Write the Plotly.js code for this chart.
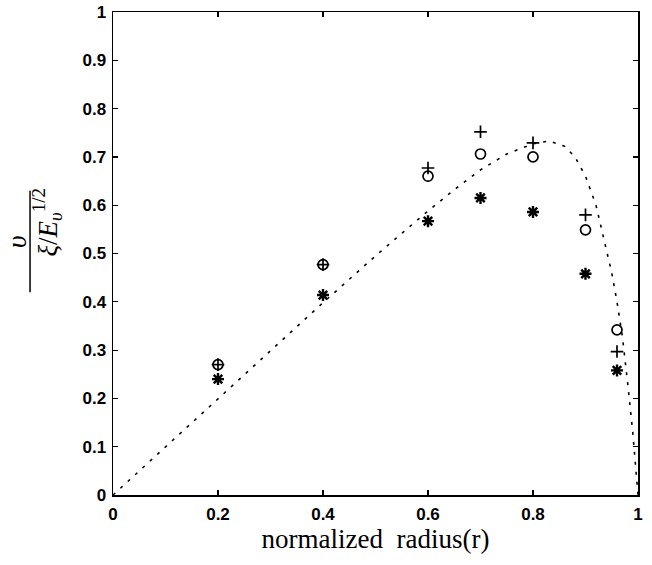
<!DOCTYPE html>
<html>
<head>
<meta charset="utf-8">
<script src="https://cdn.plot.ly/plotly-3.0.1.min.js"></script>
<style>html,body{margin:0;padding:0;background:#fff;}#chart{width:652px;height:565px;}</style>
</head>
<body>
<div id="chart"></div>
<script>
// Measured points (normalized radius r)
var radius = [0.2, 0.4, 0.6, 0.7, 0.8, 0.9, 0.96];
var circleValues = [0.270, 0.477, 0.660, 0.706, 0.700, 0.549, 0.342];
var plusValues   = [0.270, 0.477, 0.677, 0.752, 0.729, 0.580, 0.297];
var starValues   = [0.240, 0.414, 0.567, 0.615, 0.586, 0.458, 0.258];

// Dotted model curve
var curveR = [0, 0.1, 0.2, 0.3, 0.4, 0.5, 0.6, 0.65, 0.7, 0.75, 0.8, 0.83, 0.86, 0.88, 0.9, 0.92, 0.94, 0.95, 0.96, 0.97, 0.98, 0.99, 1.0];
var curveV = [0, 0.1, 0.2, 0.3, 0.398, 0.495, 0.588, 0.632, 0.673, 0.706, 0.727, 0.733, 0.722, 0.700, 0.660, 0.600, 0.510, 0.460, 0.400, 0.330, 0.235, 0.130, 0.0];

var xTickVals = [0, 0.2, 0.4, 0.6, 0.8, 1];
var xTickText = ["0", "0.2", "0.4", "0.6", "0.8", "1"];
var yTickVals = [0, 0.1, 0.2, 0.3, 0.4, 0.5, 0.6, 0.7, 0.8, 0.9, 1];
var yTickText = ["0", "0.1", "0.2", "0.3", "0.4", "0.5", "0.6", "0.7", "0.8", "0.9", "1"];

var xTitle = "normalized  radius(r)";
var yNumerator = "<i>υ</i>";
var yDenominator = "<i>ξ</i>/<i>E</i><sub><i>υ</i></sub><sup>1/2</sup>";

var traces = [
  {x: curveR, y: curveV, mode: 'lines', type: 'scatter',
   line: {color: '#000', width: 1.6, dash: '3px,7px'}, hoverinfo: 'skip'},
  {x: radius, y: circleValues, mode: 'markers', type: 'scatter',
   marker: {symbol: 'circle-open', size: 10, color: '#000', line: {width: 1.7, color: '#000'}}},
  {x: radius, y: plusValues, mode: 'markers', type: 'scatter',
   marker: {symbol: 'cross-thin-open', size: 9, color: '#000', line: {width: 1.7, color: '#000'}}},
  {x: radius, y: starValues, mode: 'markers', type: 'scatter',
   marker: {symbol: 'asterisk-open', size: 10, color: '#000', line: {width: 2.4, color: '#000'}}}
];

var axisCommon = {
  showgrid: false, zeroline: false, showline: true, mirror: 'ticks',
  linecolor: '#000', linewidth: 1.5, ticks: 'inside', ticklen: 5,
  tickwidth: 1.2, tickcolor: '#000',
  tickfont: {family: 'Liberation Sans, Arial, sans-serif', size: 17, color: '#000', weight: 'bold'}
};

var layout = {
  width: 652, height: 565,
  margin: {l: 113, r: 14, t: 12, b: 70},
  paper_bgcolor: '#fff', plot_bgcolor: '#fff',
  showlegend: false,
  xaxis: Object.assign({}, axisCommon, {
    range: [0, 1], tickmode: 'array', tickvals: xTickVals, ticktext: xTickText,
    ticklabelstandoff: 3,
    title: {text: xTitle, font: {family: 'Liberation Serif, Times New Roman, serif', size: 27, color: '#000'}, standoff: 4}
  }),
  yaxis: Object.assign({}, axisCommon, {
    range: [0, 1], tickmode: 'array', tickvals: yTickVals, ticktext: yTickText,
    ticklabelstandoff: 2
  }),
  annotations: [
    {xref: 'paper', yref: 'paper', x: -0.183, y: 0.525, text: yNumerator, showarrow: false,
     textangle: -90, xanchor: 'center', yanchor: 'middle',
     font: {family: 'Liberation Serif, Times New Roman, serif', size: 28, color: '#000'}},
    {xref: 'paper', yref: 'paper', x: -0.125, y: 0.565, text: yDenominator, showarrow: false,
     textangle: -90, xanchor: 'center', yanchor: 'middle',
     font: {family: 'Liberation Serif, Times New Roman, serif', size: 27, color: '#000'}}
  ],
  shapes: [
    {type: 'line', xref: 'paper', yref: 'paper', x0: -0.158, x1: -0.158, y0: 0.42, y1: 0.63,
     line: {color: '#000', width: 1.5}}
  ]
};

Plotly.newPlot('chart', traces, layout, {displayModeBar: false, staticPlot: true});
</script>
</body>
</html>
